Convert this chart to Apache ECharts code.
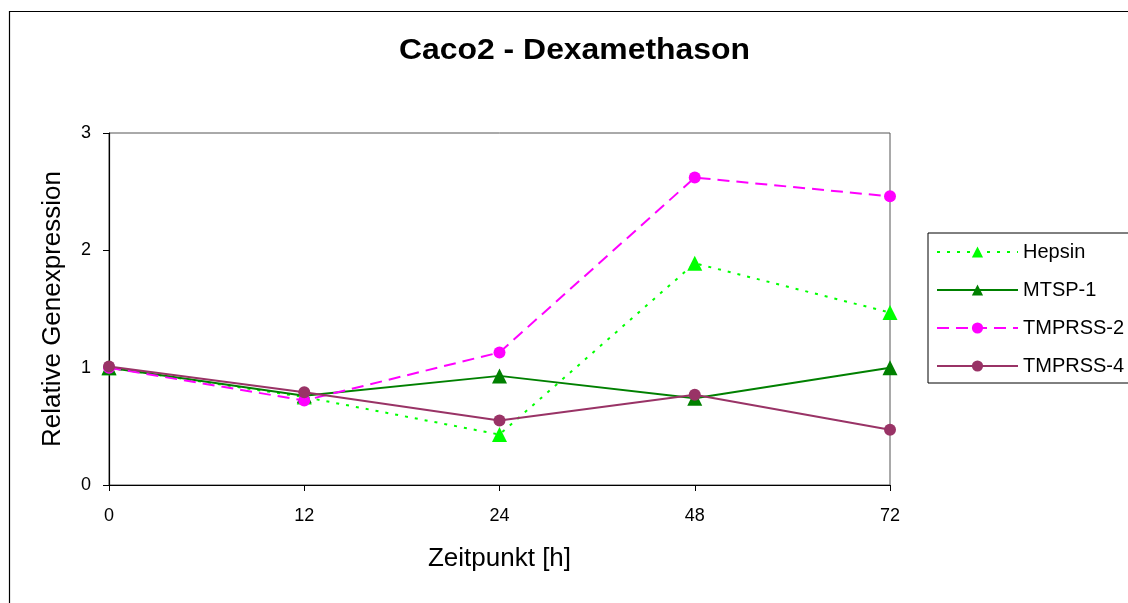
<!DOCTYPE html>
<html>
<head>
<meta charset="utf-8">
<script src="https://cdn.jsdelivr.net/npm/echarts@6/dist/echarts.min.js"></script>
<style>
html,body{margin:0;padding:0;background:#fff;}
#chart{width:1128px;height:603px;}
</style>
</head>
<body>
<div id="chart"></div>
<script>
var categories = ['0', '12', '24', '48', '72'];
var hepsin = [1.00, 0.75, 0.43, 1.89, 1.47];
var mtsp1 = [1.00, 0.76, 0.93, 0.74, 1.00];
var tmprss2 = [1.00, 0.72, 1.13, 2.62, 2.46];
var tmprss4 = [1.01, 0.79, 0.55, 0.77, 0.47];
var yTicks = [0, 1, 2, 3];
var titleText = 'Caco2 - Dexamethason';

var FONT = '"Liberation Sans", Arial, sans-serif';
var chart = echarts.init(document.getElementById('chart'));
chart.setOption({
  animation: false,
  backgroundColor: '#fff',
  graphic: [{
    type: 'rect',
    shape: { x: 9.5, y: 11.5, width: 1300, height: 800 },
    style: { fill: 'none', stroke: '#000', lineWidth: 1.2 },
    silent: true
  }, {
    type: 'text',
    x: 399, y: 51,
    scaleX: 1.10,
    style: {
      text: titleText,
      font: 'bold 29px "Liberation Sans", Arial, sans-serif',
      fill: '#000',
      textAlign: 'left',
      textVerticalAlign: 'middle'
    },
    silent: true
  }],
  legend: {
    orient: 'vertical',
    left: 928,
    top: 233,
    padding: [9, 6, 7, 8],
    itemWidth: 81,
    itemHeight: 14,
    itemGap: 18,
    borderColor: '#000',
    borderWidth: 1,
    textStyle: { fontFamily: FONT, fontSize: 20, color: '#000' },
    data: ['Hepsin', 'MTSP-1', 'TMPRSS-2', 'TMPRSS-4']
  },
  grid: {
    left: 109, top: 133, right: 238, bottom: 118,
    show: true, borderColor: '#555', borderWidth: 1, containLabel: false
  },
  xAxis: {
    type: 'category',
    data: categories,
    boundaryGap: false,
    name: 'Zeitpunkt [h]',
    nameLocation: 'middle',
    nameGap: 61,
    nameTextStyle: { fontFamily: FONT, fontSize: 26, color: '#000' },
    axisLine: { lineStyle: { color: '#000', width: 1.2 } },
    axisTick: { show: true, length: 6, lineStyle: { color: '#000' } },
    axisLabel: { fontFamily: FONT, fontSize: 18, color: '#000', margin: 22 },
    splitLine: { show: false }
  },
  yAxis: {
    type: 'value',
    min: yTicks[0],
    max: yTicks[yTicks.length - 1],
    interval: 1,
    name: 'Relative Genexpression',
    nameLocation: 'middle',
    nameGap: 43,
    nameTextStyle: { fontFamily: FONT, fontSize: 26, color: '#000' },
    axisLine: { show: true, lineStyle: { color: '#000', width: 1.2 } },
    axisTick: { show: true, length: 6, lineStyle: { color: '#000' } },
    axisLabel: { fontFamily: FONT, fontSize: 18, color: '#000', margin: 18 },
    splitLine: { show: false }
  },
  series: [
    {
      name: 'Hepsin', type: 'line', data: hepsin,
      symbol: 'triangle', symbolSize: 15,
      itemStyle: { color: '#00FF00' },
      lineStyle: { color: '#00FF00', width: 2, type: [3, 7] },
      z: 3
    },
    {
      name: 'MTSP-1', type: 'line', data: mtsp1,
      symbol: 'triangle', symbolSize: 15,
      itemStyle: { color: '#008000' },
      lineStyle: { color: '#008000', width: 2, type: 'solid' },
      z: 4
    },
    {
      name: 'TMPRSS-2', type: 'line', data: tmprss2,
      symbol: 'circle', symbolSize: 12,
      itemStyle: { color: '#FF00FF' },
      lineStyle: { color: '#FF00FF', width: 2, type: [12, 7] },
      z: 5
    },
    {
      name: 'TMPRSS-4', type: 'line', data: tmprss4,
      symbol: 'circle', symbolSize: 12,
      itemStyle: { color: '#993366' },
      lineStyle: { color: '#993366', width: 2, type: 'solid' },
      z: 6
    }
  ]
});
</script>
</body>
</html>
